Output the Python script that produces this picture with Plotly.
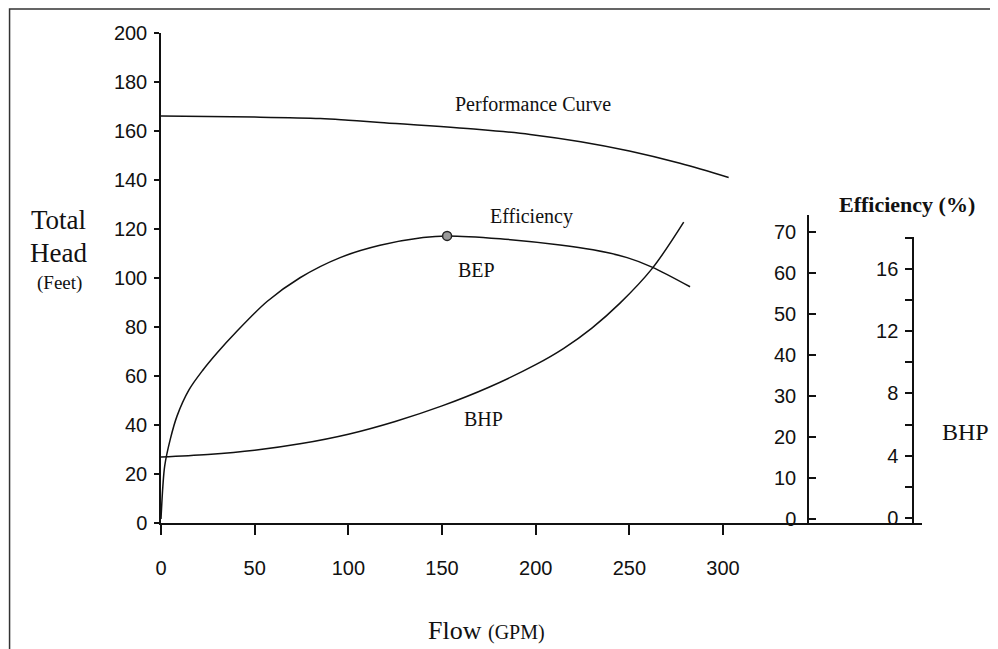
import plotly.graph_objects as go

# ---- data ----
head_flow = [0, 50, 85, 100, 117, 170, 197, 224, 250, 277, 303]
head_ft = [166.1, 165.7, 165.1, 164.4, 163.5, 160.6, 158.6, 155.6, 151.8, 146.8, 141.0]

eff_flow = [0, 1, 2, 5, 8.5, 15, 22.4, 30, 40, 56.6, 74.2, 95.6, 116.9,
            139.9, 152.7, 181, 213, 230.6, 248.8, 262.1, 282.4]
eff_pct = [0, 8, 13, 19.5, 25, 31.5, 36.3, 40.5, 45.5, 53, 58.8, 63.7, 66.7,
           68.6, 69.0, 68.3, 66.8, 65.6, 63.7, 61.4, 56.6]

bhp_flow = [0, 25, 50, 75, 100, 125, 150, 175, 200, 215, 230, 245, 262, 279]
bhp_hp = [3.92, 4.08, 4.35, 4.78, 5.38, 6.2, 7.2, 8.4, 9.85, 10.9, 12.2, 13.8, 16.0, 19.0]

bep_flow = [152.7]
bep_eff = [69.0]

flow_ticks = [0, 50, 100, 150, 200, 250, 300]
head_ticks = [0, 20, 40, 60, 80, 100, 120, 140, 160, 180, 200]
eff_ticks = [0, 10, 20, 30, 40, 50, 60, 70]
bhp_ticks = [0, 4, 8, 12, 16]
bhp_minor = [2, 6, 10, 14, 18]

SANS = "Liberation Sans, Arial, sans-serif"
SERIF = "Liberation Serif, Times New Roman, serif"
INK = "#111111"

fig = go.Figure()
fig.add_trace(go.Scatter(x=head_flow, y=head_ft, mode="lines",
                         line=dict(color=INK, width=1.5, shape="spline", smoothing=1.0),
                         xaxis="x", yaxis="y", showlegend=False, hoverinfo="skip"))
fig.add_trace(go.Scatter(x=eff_flow, y=eff_pct, mode="lines",
                         line=dict(color=INK, width=1.5, shape="spline", smoothing=0.9),
                         xaxis="x", yaxis="y2", showlegend=False, hoverinfo="skip"))
fig.add_trace(go.Scatter(x=bhp_flow, y=bhp_hp, mode="lines",
                         line=dict(color=INK, width=1.5, shape="spline", smoothing=1.0),
                         xaxis="x", yaxis="y4", showlegend=False, hoverinfo="skip"))
# empty trace so the BHP scale axis gets its own subplot
fig.add_trace(go.Scatter(x=[None], y=[None], mode="lines", xaxis="x", yaxis="y3",
                         showlegend=False, hoverinfo="skip"))
fig.add_trace(go.Scatter(x=bep_flow, y=bep_eff, mode="markers",
                         marker=dict(size=9, color="#9a9a9a", line=dict(color="#222", width=1.5)),
                         xaxis="x", yaxis="y2", showlegend=False, hoverinfo="skip", cliponaxis=False))

axis_common = dict(showgrid=False, zeroline=False, showline=True, linecolor=INK, linewidth=1.5,
                   tickcolor=INK, tickwidth=1.5, tickfont=dict(family=SANS, size=20, color=INK))

# page body adds an 8px offset; the figure is shifted/sized to compensate
fig.update_layout(
    width=990, height=641,
    margin=dict(l=153, r=76, t=25, b=126),
    paper_bgcolor="white", plot_bgcolor="rgba(0,0,0,0)",
    xaxis=dict(range=[0, 406.2], tickvals=flow_ticks, ticks="outside", ticklen=10,
               ticklabelstandoff=16, **axis_common),
    yaxis=dict(range=[0, 200], tickvals=head_ticks, ticks="outside", ticklen=5,
               ticklabelstandoff=3, **axis_common),
    yaxis2=dict(domain=[0, 0.6286], anchor="free", position=0.8502, side="left",
                range=[-1, 74.1], tickvals=eff_ticks, ticks="inside", ticklen=7,
                ticklabelstandoff=7, **axis_common),
    yaxis3=dict(domain=[0, 0.5837], anchor="free", position=0.9882, side="left",
                range=[-0.32, 18.05], tickvals=bhp_ticks, ticks="outside", ticklen=7,
                ticklabelstandoff=3,
                minor=dict(tickvals=bhp_minor, ticks="outside", ticklen=7, tickcolor=INK, tickwidth=1.5),
                **axis_common),
    yaxis4=dict(overlaying="y", range=[-0.32, 31.15], visible=False),
)

ann = []
def add(text, x, y, size, xref="paper", yref="paper", bold=False):
    t = f"<b>{text}</b>" if bold else text
    ann.append(dict(text=t, x=x, y=y, xref=xref, yref=yref, showarrow=False,
                    xanchor="center", yanchor="middle",
                    font=dict(family=SERIF, size=size, color=INK)))

add("Total", -0.1353, 0.6184, 27)
add("Head", -0.1353, 0.551, 27)
add("(Feet)", -0.134, 0.4898, 19)
add("Flow <span style='font-size:20px'>(GPM)</span>", 0.4271, -0.2204, 26)
add("Efficiency (%)", 0.9803, 0.649, 22, bold=True)
add("BHP", 1.0578, 0.1857, 24)
add("Performance Curve", 198.6, 171.0, 20, "x", "y")
add("Efficiency", 198.0, 125.3, 20, "x", "y")
add("BEP", 168.2, 103.3, 20, "x", "y")
add("BHP", 172.4, 42.4, 20, "x", "y")
fig.update_layout(annotations=ann)

# scanned page frame
fig.add_shape(type="rect", xref="paper", yref="paper", x0=-0.199, x1=1.096, y0=-0.3, y1=1.049,
              line=dict(color="#333", width=1.5), layer="below")

fig.write_html("out.html")
